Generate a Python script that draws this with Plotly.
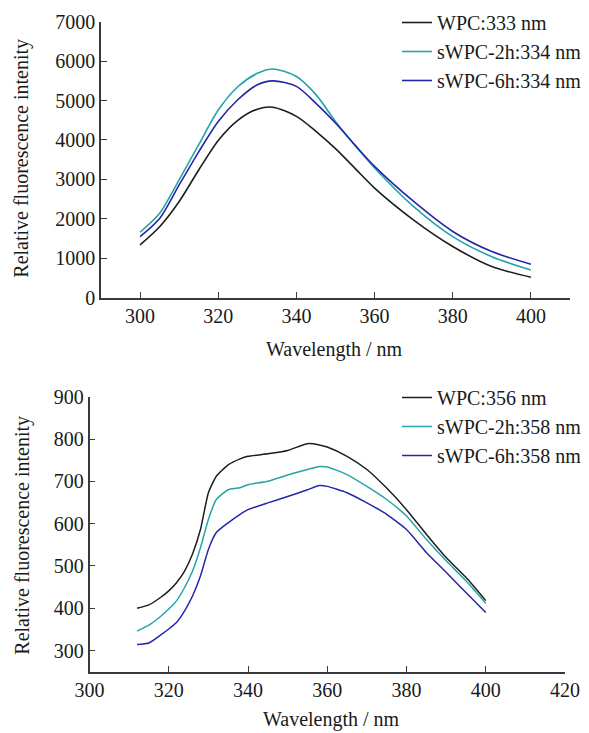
import plotly.graph_objects as go

# ---------------- data ----------------
wl_top = [300, 305, 310, 315, 320, 325, 330, 334, 340, 345, 350, 355, 360, 370, 380, 390, 400]
wpc_top = [1340, 1800, 2440, 3240, 3990, 4500, 4780, 4830, 4600, 4220, 3780, 3280, 2780, 1970, 1300, 790, 520]
s2h_top = [1660, 2140, 2990, 3880, 4760, 5350, 5690, 5800, 5610, 5150, 4470, 3860, 3290, 2310, 1550, 1040, 700]
s6h_top = [1550, 2010, 2860, 3700, 4470, 5020, 5400, 5500, 5360, 4930, 4430, 3870, 3330, 2440, 1680, 1170, 850]
names_top = ["WPC:333 nm", "sWPC-2h:334 nm", "sWPC-6h:334 nm"]

wl_bot = [312, 315, 318, 320, 322, 324, 326, 328, 330, 332, 335, 338, 340, 345, 350,
          355, 358, 360, 365, 370, 375, 380, 385, 390, 395, 400]
wpc_bot = [400, 408, 426, 441, 461, 488, 528, 586, 673, 712, 739, 753, 759, 765, 773,
           789, 786, 781, 759, 728, 684, 633, 575, 520, 473, 418]
s2h_bot = [346, 360, 381, 398, 418, 449, 488, 543, 610, 657, 680, 685, 692, 700, 715,
           728, 735, 734, 716, 688, 657, 618, 563, 512, 465, 412]
s6h_bot = [314, 318, 337, 351, 367, 394, 429, 476, 539, 579, 602, 622, 633, 649, 664,
           680, 690, 688, 673, 649, 622, 586, 532, 485, 437, 390]
names_bot = ["WPC:356 nm", "sWPC-2h:358 nm", "sWPC-6h:358 nm"]

x_ticks_top = [300, 320, 340, 360, 380, 400]
y_ticks_top = [0, 1000, 2000, 3000, 4000, 5000, 6000, 7000]
x_ticks_bot = [300, 320, 340, 360, 380, 400, 420]
y_ticks_bot = [300, 400, 500, 600, 700, 800, 900]

colors = ["#1e1e1e", "#26a3a8", "#2626a8"]
FONT = "Liberation Serif, Times New Roman, serif"
TXT = "#1a1a1a"
AX = "#3a3a3a"

OFF = 8  # page body margin
W, H = 589 - OFF, 733 - OFF


def px(x):
    return (x - OFF) / W


def py(y):
    return 1 - (y - OFF) / H


fig = go.Figure()
for ys, nm, c in zip([wpc_top, s2h_top, s6h_top], names_top, colors):
    fig.add_trace(go.Scatter(x=wl_top, y=ys, name=nm, mode="lines",
                             line=dict(color=c, width=1.6, shape="spline", smoothing=0.8),
                             xaxis="x", yaxis="y", legend="legend"))
for ys, nm, c in zip([wpc_bot, s2h_bot, s6h_bot], names_bot, colors):
    fig.add_trace(go.Scatter(x=wl_bot, y=ys, name=nm, mode="lines",
                             line=dict(color=c, width=1.5, shape="spline", smoothing=0.5),
                             xaxis="x2", yaxis="y2", legend="legend2"))

axis_common = dict(showline=True, linecolor=AX, linewidth=1.5, ticks="inside",
                   ticklen=6, tickwidth=1.3, tickcolor=AX, showgrid=False, zeroline=False,
                   tickfont=dict(family=FONT, size=20, color=TXT), mirror=False,
                   automargin=False)

fig.update_layout(
    width=W, height=H,
    margin=dict(l=0, r=0, t=0, b=0, pad=0, autoexpand=False),
    paper_bgcolor="white", plot_bgcolor="white",
    font=dict(family=FONT, size=20, color=TXT),
    xaxis=dict(domain=[px(101), px(570)], range=[290, 410], tickvals=x_ticks_top,
               anchor="y", **axis_common),
    yaxis=dict(domain=[py(297.7), py(21.7)], range=[0, 7000], tickvals=y_ticks_top,
               anchor="x", **axis_common),
    xaxis2=dict(domain=[px(89.5), px(565)], range=[300, 420], tickvals=x_ticks_bot,
                anchor="y2", **axis_common),
    yaxis2=dict(domain=[py(671.7), py(396.7)], range=[250, 900], tickvals=y_ticks_bot,
                anchor="x2", **axis_common),
    legend=dict(x=px(397), y=py(3), xanchor="left", yanchor="top",
                bgcolor="rgba(0,0,0,0)", font=dict(family=FONT, size=20, color=TXT),
                tracegroupgap=0, itemwidth=30),
    legend2=dict(x=px(397), y=py(378), xanchor="left", yanchor="top",
                 bgcolor="rgba(0,0,0,0)", font=dict(family=FONT, size=20, color=TXT),
                 tracegroupgap=0, itemwidth=30),
    showlegend=True,
)

ann = dict(xref="paper", yref="paper", showarrow=False,
           font=dict(family=FONT, size=20, color=TXT))
fig.add_annotation(text="Relative fluorescence intenity", x=px(21.7), y=py(158),
                   textangle=-90, xanchor="center", yanchor="middle", **ann)
fig.add_annotation(text="Relative fluorescence intenity", x=px(21.7), y=py(535),
                   textangle=-90, xanchor="center", yanchor="middle", **ann)
fig.add_annotation(text="Wavelength / nm", x=px(334.7), y=py(350),
                   xanchor="center", yanchor="middle", **ann)
fig.add_annotation(text="Wavelength / nm", x=px(331.7), y=py(719),
                   xanchor="center", yanchor="middle", **ann)

fig.write_html("out.html")
